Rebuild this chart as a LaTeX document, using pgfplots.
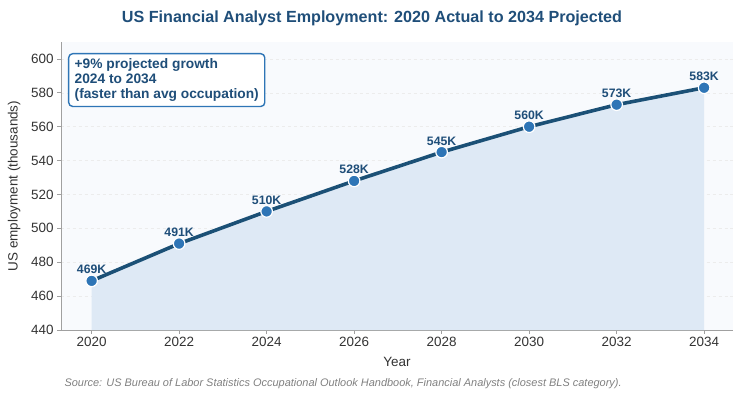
\documentclass[border=0pt]{standalone}
\usepackage{pgfplots}
\pgfplotsset{compat=1.18}
\usepackage{fontspec}
\setmainfont{Liberation Sans}
\definecolor{titleblue}{HTML}{1F4E79}
\definecolor{lineblue}{HTML}{1B5076}
\definecolor{markblue}{HTML}{2E75B6}
\definecolor{areablue}{HTML}{DEE9F5}
\definecolor{bgblue}{HTML}{F8FAFD}
\definecolor{spinegray}{HTML}{A0A0A0}
\definecolor{ticktext}{HTML}{333333}
\pgfplotstableread{
year value
2020 469
2022 491
2024 510
2026 528
2028 545
2030 560
2032 573
2034 583
}\emp
\begin{document}
\begin{tikzpicture}[x=1bp,y=1bp]
\path[use as bounding box] (-61bp,-70bp) rectangle (683bp,330bp);
\begin{axis}[
  at={(0bp,0bp)}, anchor=south west,
  scale only axis, width=672bp, height=288bp,
  xmin=2019.3, xmax=2034.66, ymin=440, ymax=610,
  xtick={2020,2022,...,2034}, ytick={440,460,...,600},
  /pgf/number format/1000 sep={},
  /pgf/number format/assume math mode=true,
  axis lines*=left,
  axis line style={spinegray, line width=1pt},
  axis background/.style={fill=bgblue},
  tick style={spinegray, line width=0.8pt},
  tick align=outside, major tick length=4bp,
  ticklabel style={font=\fontsize{13.5}{15}\selectfont, text=ticktext},
  ymajorgrids, grid style={dashed, gray!15, line width=0.6pt},
  xlabel={Year}, ylabel={US employment (thousands)},
  label style={font=\fontsize{13.5}{15}\selectfont, text=ticktext},
  xlabel style={at={(axis description cs:0.5,0)}, anchor=center, yshift=-32bp},
  ylabel style={at={(axis description cs:-0.0699,0.5)}, anchor=center},
  clip=false,
]
\addplot[draw=none, fill=areablue] table[x=year,y=value]{\emp} \closedcycle;
\addplot[lineblue, line width=3.6pt, mark=*, mark size=5.8bp,
  mark options={fill=markblue, draw=white, line width=1.2pt},
  nodes near coords={\pgfmathprintnumber{\pgfplotspointmeta}K},
  every node near coord/.append style={font=\bfseries\fontsize{12.3}{14}\selectfont, text=titleblue, yshift=3bp}
] table[x=year,y=value]{\emp};
\node[draw=markblue, line width=1.4pt, rounded corners=4bp, fill=white, anchor=north west, align=left,
  font=\bfseries\fontsize{13.8}{15}\selectfont, text=titleblue, inner xsep=6bp, inner ysep=5bp]
  at (rel axis cs:0,1) [xshift=7bp, yshift=-11bp] {+9\% projected growth\\2024 to 2034\\(faster than avg occupation)};
\end{axis}
\node[font=\bfseries\fontsize{16.2}{18}\selectfont, text=titleblue] at (311bp,312bp) {US Financial Analyst Employment: 2020 Actual to 2034 Projected};
\node[font=\itshape\fontsize{11}{13}\selectfont, text=gray, anchor=west] at (0bp,-54bp) {Source: US Bureau of Labor Statistics Occupational Outlook Handbook, Financial Analysts (closest BLS category).};
\end{tikzpicture}
\end{document}
